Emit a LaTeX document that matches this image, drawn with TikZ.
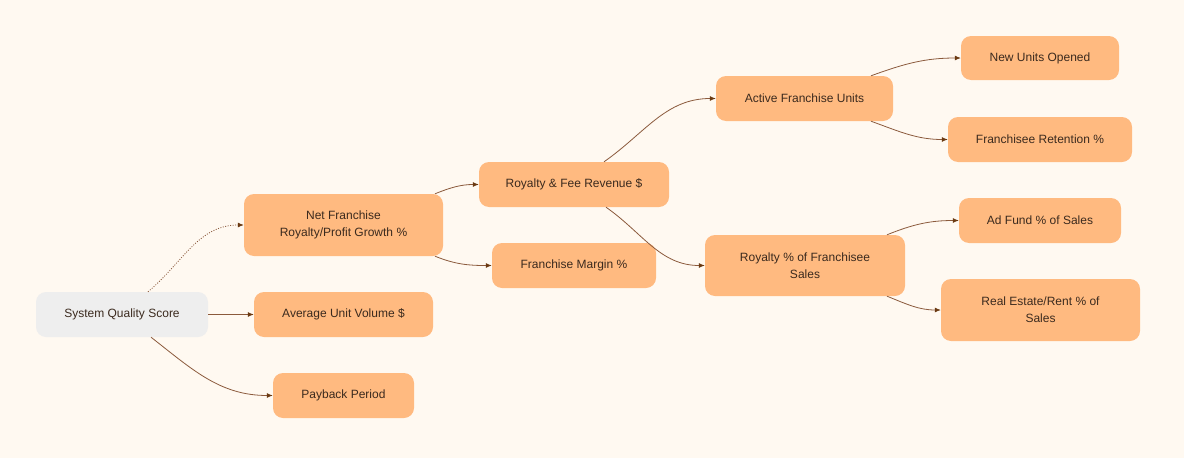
\documentclass[tikz,border=0pt]{standalone}
\usepackage{fontspec}
\setmainfont{Liberation Sans}
\usetikzlibrary{arrows.meta}
\definecolor{bg}{HTML}{FFF9F1}
\definecolor{boxo}{HTML}{FFBA80}
\definecolor{boxg}{HTML}{EEEEEE}
\definecolor{txt}{HTML}{3B2A1E}
\definecolor{edge}{HTML}{8B5A3C}
\definecolor{tip}{HTML}{6B3A12}
\begin{document}
\begin{tikzpicture}[x=1pt,y=-1pt,
  box/.style={rounded corners=10pt, fill=boxo, text=txt, font=\fontsize{12}{17}\selectfont, align=center, inner sep=0pt},
  link/.style={draw=edge, line width=0.8pt, -{Latex[length=6pt,width=5pt,color=tip]}},
  dotlink/.style={link, dash pattern=on 1pt off 1.5pt}]
\fill[bg] (0,0) rectangle (1184,458);
\useasboundingbox (0,0) rectangle (1184,458);
% nodes
\node[box, fill=boxg, minimum width=172pt, minimum height=45pt] (sqs) at (122,314.5) {System Quality Score};
\node[box, minimum width=199pt, minimum height=62pt] (net) at (343.5,225) {Net Franchise\\Royalty/Profit Growth \%};
\node[box, minimum width=179pt, minimum height=45pt] (auv) at (343.5,314.5) {Average Unit Volume \$};
\node[box, minimum width=141pt, minimum height=45pt] (pay) at (343.5,395.5) {Payback Period};
\node[box, minimum width=190pt, minimum height=45pt] (rfr) at (574,184.5) {Royalty \& Fee Revenue \$};
\node[box, minimum width=164pt, minimum height=45pt] (fm) at (574,265.5) {Franchise Margin \%};
\node[box, minimum width=177pt, minimum height=45pt] (afu) at (804.5,98.5) {Active Franchise Units};
\node[box, minimum width=200pt, minimum height=61pt] (rps) at (805,265.5) {Royalty \% of Franchisee\\Sales};
\node[box, minimum width=158pt, minimum height=44pt] (nuo) at (1040,58) {New Units Opened};
\node[box, minimum width=184pt, minimum height=45pt] (fr) at (1040,139.5) {Franchisee Retention \%};
\node[box, minimum width=162pt, minimum height=45pt] (adf) at (1040,220.5) {Ad Fund \% of Sales};
\node[box, minimum width=199pt, minimum height=62pt] (re) at (1040.5,310) {Real Estate/Rent \% of\\Sales};
% connectors
\draw[dotlink] ([xshift=26pt]sqs.north) to[out=40,in=180] (net.west);
\draw[link] (sqs.east) -- (auv.west);
\draw[link] ([xshift=29pt]sqs.south) to[out=-38,in=180] (pay.west);
\draw[link] ([xshift=91.5pt]net.north) to[out=22,in=180] (rfr.west);
\draw[link] ([xshift=91.5pt]net.south) to[out=-22,in=180] (fm.west);
\draw[link] ([xshift=30pt]rfr.north) to[out=35,in=180] (afu.west);
\draw[link] ([xshift=32pt]rfr.south) to[out=-35,in=180] (rps.west);
\draw[link] ([xshift=66.5pt]afu.north) to[out=20,in=180] (nuo.west);
\draw[link] ([xshift=66.5pt]afu.south) to[out=-20,in=180] (fr.west);
\draw[link] ([xshift=82pt]rps.north) to[out=22,in=180] (adf.west);
\draw[link] ([xshift=82pt]rps.south) to[out=-22,in=180] (re.west);
\end{tikzpicture}
\end{document}
